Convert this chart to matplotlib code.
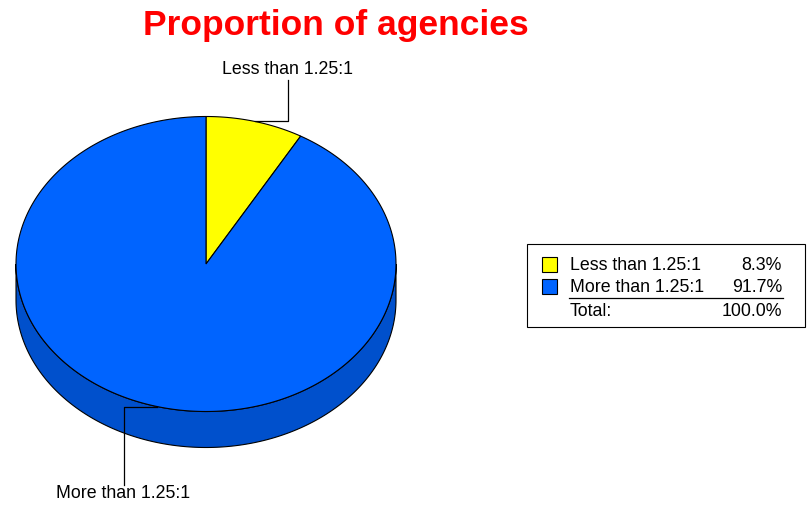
import numpy as np
import matplotlib.pyplot as plt
from matplotlib.patches import Polygon, Rectangle

plt.rcParams['font.family'] = ['Liberation Sans', 'DejaVu Sans']

labels = ['Less than 1.25:1', 'More than 1.25:1']
shares = [8.3, 91.7]
top_colors = ['#FFFF00', '#0064FF']
side_colors = ['#C8C800', '#0050CC']

# pie geometry, in pixels (y grows downward)
cx, cy = 206, 264
rx, ry = 190, 147.5
depth = 36


def rim(theta, dy=0.0):
    # theta in degrees, clockwise from 12 o'clock
    t = np.radians(theta)
    return np.column_stack([cx + rx * np.sin(t), cy - ry * np.cos(t) + dy])


fig = plt.figure(figsize=(8.09, 5.29), dpi=100)
ax = fig.add_axes([0, 0, 1, 1])
ax.set_xlim(0, 809)
ax.set_ylim(529, 0)
ax.axis('off')

fracs = np.array(shares) / sum(shares)
bounds = np.concatenate([[0], np.cumsum(fracs) * 360])

# side wall: only the front half (90..270 deg) is visible
for i in range(len(shares)):
    a0, a1 = max(bounds[i], 90), min(bounds[i + 1], 270)
    if a1 <= a0:
        continue
    th = np.linspace(a0, a1, 200)
    pts = np.vstack([rim(th), rim(th[::-1], depth)])
    ax.add_patch(Polygon(pts, closed=True, fc=side_colors[i], ec='black', lw=0.8))

# top face
for i in range(len(shares)):
    th = np.linspace(bounds[i], bounds[i + 1], 300)
    pts = np.vstack([[cx, cy], rim(th)])
    ax.add_patch(Polygon(pts, closed=True, fc=top_colors[i], ec='black', lw=0.8))

# leader lines and labels
mids = (bounds[:-1] + bounds[1:]) / 2
p = rim([mids[0]])[0]
ax.plot([p[0], 288, 288], [p[1], p[1], 80], color='black', lw=0.9)
ax.text(288, 70, labels[0], ha='center', va='center', fontsize=12.8)

p = rim([mids[1]])[0]
ax.plot([p[0], 124, 124], [p[1], p[1], 485], color='black', lw=0.9)
ax.text(123, 494, labels[1], ha='center', va='center', fontsize=12.8)

ax.text(336, 25, 'Proportion of agencies', ha='center', va='center',
        fontsize=25.5, fontweight='bold', color='#FF0000')

# legend table
ax.add_patch(Rectangle((527, 244), 278, 83, fc='white', ec='black', lw=0.8))
row_y = [265, 287]
for i in range(len(shares)):
    ax.add_patch(Rectangle((542, row_y[i] - 8), 15, 15, fc=top_colors[i], ec='black', lw=0.8))
    ax.text(570, row_y[i], labels[i], ha='left', va='center', fontsize=12.8)
    ax.text(782, row_y[i], f'{shares[i]:.1f}%', ha='right', va='center', fontsize=12.8)
ax.plot([569, 783], [298, 298], color='black', lw=0.9)
ax.text(570, 312, 'Total:', ha='left', va='center', fontsize=12.8)
ax.text(782, 312, f'{sum(shares):.1f}%', ha='right', va='center', fontsize=12.8)

fig.savefig('out.png', dpi=100)
